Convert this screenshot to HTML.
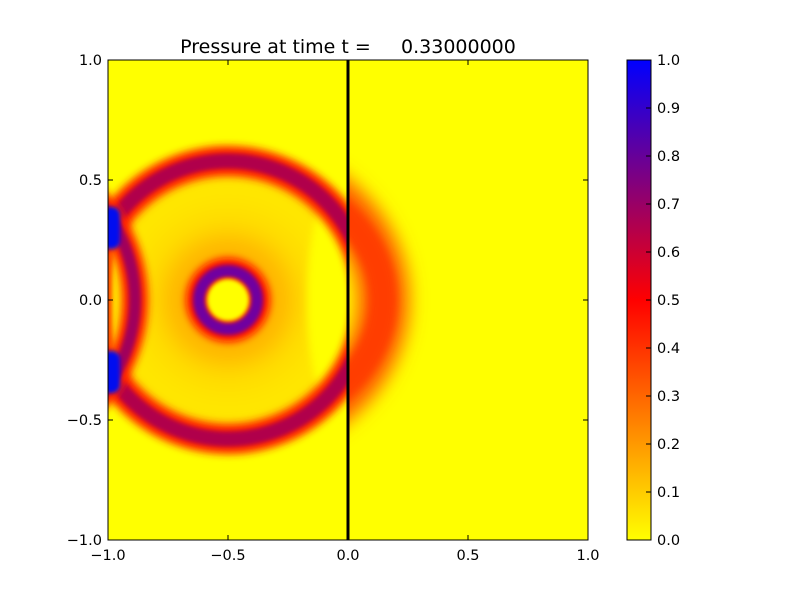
<!DOCTYPE html>
<html><head><meta charset="utf-8"><style>
body{margin:0;background:#fff;}
svg{display:block;font-family:"DejaVu Sans","Liberation Sans",sans-serif;}
</style></head><body>
<svg id="fig" width="800" height="600" viewBox="0 0 800 600">
<defs>
<clipPath id="plotclip"><rect x="108" y="60" width="480" height="480"/></clipPath>
<clipPath id="rightclip"><rect x="348" y="60" width="240" height="480"/></clipPath>
<clipPath id="leftclip"><rect x="108" y="60" width="240" height="480"/></clipPath>
<filter id="b4" x="-50%" y="-50%" width="200%" height="200%"><feGaussianBlur stdDeviation="4"/></filter>
<filter id="b2" x="-50%" y="-50%" width="200%" height="200%"><feGaussianBlur stdDeviation="2"/></filter>
<filter id="b8" x="-50%" y="-50%" width="200%" height="200%"><feGaussianBlur stdDeviation="9"/></filter>
<radialGradient id="haze" cx="228" cy="300" r="140" gradientUnits="userSpaceOnUse">
<stop offset="0" stop-color="#ffd000"/><stop offset="0.35" stop-color="#ffb000"/>
<stop offset="0.55" stop-color="#ffdc00"/><stop offset="0.85" stop-color="#ffea00"/><stop offset="1" stop-color="#ffc000"/>
</radialGradient>
<linearGradient id="cmap" x1="0" y1="1" x2="0" y2="0">
<stop offset="0" stop-color="#ffff00"/><stop offset="0.5" stop-color="#ff0000"/><stop offset="1" stop-color="#0000ff"/>
</linearGradient>
</defs>
<text x="348" y="53" font-size="19" text-anchor="middle" xml:space="preserve">Pressure at time t =     0.33000000</text>
<g clip-path="url(#plotclip)">
<rect x="108" y="60" width="480" height="480" fill="#ffff00"/>
<g clip-path="url(#leftclip)">
<circle cx="228" cy="300" r="135" fill="url(#haze)" filter="url(#b8)"/>
<ellipse cx="335" cy="300" rx="28" ry="110" fill="#ffff00" filter="url(#b4)"/>
<circle cx="228" cy="300" r="139" fill="none" stroke="#ff2000" stroke-width="30" filter="url(#b4)"/>
<circle cx="228" cy="300" r="139" fill="none" stroke="#b0004c" stroke-width="15" filter="url(#b2)"/>
<circle cx="-12" cy="300" r="147" fill="none" stroke="#ff2000" stroke-width="26" filter="url(#b4)"/>
<circle cx="-12" cy="300" r="147" fill="none" stroke="#a0005c" stroke-width="12" filter="url(#b2)"/>
<rect x="102" y="207" width="18" height="42" rx="8" fill="#0010f0" filter="url(#b2)"/>
<rect x="102" y="351" width="18" height="42" rx="8" fill="#0010f0" filter="url(#b2)"/>
<rect x="104" y="255" width="8" height="90" fill="#ff5000" filter="url(#b2)"/>
<circle cx="228" cy="300" r="29" fill="none" stroke="#ff1000" stroke-width="26" filter="url(#b4)"/>
<circle cx="228" cy="300" r="29" fill="none" stroke="#7000a0" stroke-width="12" filter="url(#b2)"/>
<circle cx="228" cy="300" r="21" fill="#ffff00" filter="url(#b2)"/>
</g>
<g clip-path="url(#rightclip)">
<ellipse cx="228" cy="300" rx="155" ry="135" fill="none" stroke="#ff6000" stroke-width="52" filter="url(#b8)"/>
<ellipse cx="228" cy="300" rx="155" ry="128" fill="none" stroke="#ff3c00" stroke-width="28" filter="url(#b4)"/>
</g>
</g>
<line x1="348" y1="60" x2="348" y2="540" stroke="#000" stroke-width="3"/>
<rect x="108" y="60" width="480" height="480" fill="none" stroke="#000" stroke-width="1"/>
<g id="axes"></g>
<rect x="627" y="60" width="24" height="480" fill="url(#cmap)" stroke="#000" stroke-width="1"/>
<g id="cbar"></g>
</svg>
<script>
const xTicks=[-1.0,-0.5,0.0,0.5,1.0];
const yTicks=[-1.0,-0.5,0.0,0.5,1.0];
const cbTicks=[0.0,0.1,0.2,0.3,0.4,0.5,0.6,0.7,0.8,0.9,1.0];
const NS="http://www.w3.org/2000/svg";
const X=v=>348+v*240, Y=v=>300-v*240, C=v=>540-v*480;
const fmt=v=>(v<0?"\u2212":"")+Math.abs(v).toFixed(1);
function mk(t,a,p){const e=document.createElementNS(NS,t);for(const k in a)e.setAttribute(k,a[k]);p.appendChild(e);return e;}
const ax=document.getElementById('axes'), cb=document.getElementById('cbar');
xTicks.forEach(v=>{const x=X(v);
 const t1=mk('line',{x1:x,y1:540,x2:x,y2:535,stroke:'#000'},ax);
 
 
 mk('line',{x1:x,y1:60,x2:x,y2:65,stroke:'#000'},ax);
 const l=mk('text',{x:x,y:560,'font-size':14.5,'text-anchor':'middle'},ax);l.textContent=fmt(v);
 
 
});
yTicks.forEach(v=>{const y=Y(v);
 const t1=mk('line',{x1:108,y1:y,x2:113,y2:y,stroke:'#000'},ax);
 
 
 mk('line',{x1:588,y1:y,x2:583,y2:y,stroke:'#000'},ax);
 const l=mk('text',{x:102,y:y+5,'font-size':14.5,'text-anchor':'end'},ax);l.textContent=fmt(v);
 
 
});
cbTicks.forEach(v=>{const y=C(v);
 const t1=mk('line',{x1:651,y1:y,x2:646,y2:y,stroke:'#000'},cb);
 
 
 const l=mk('text',{x:657,y:y+5,'font-size':14.5},cb);l.textContent=v.toFixed(1);
 
 
});
</script>
</body></html>
